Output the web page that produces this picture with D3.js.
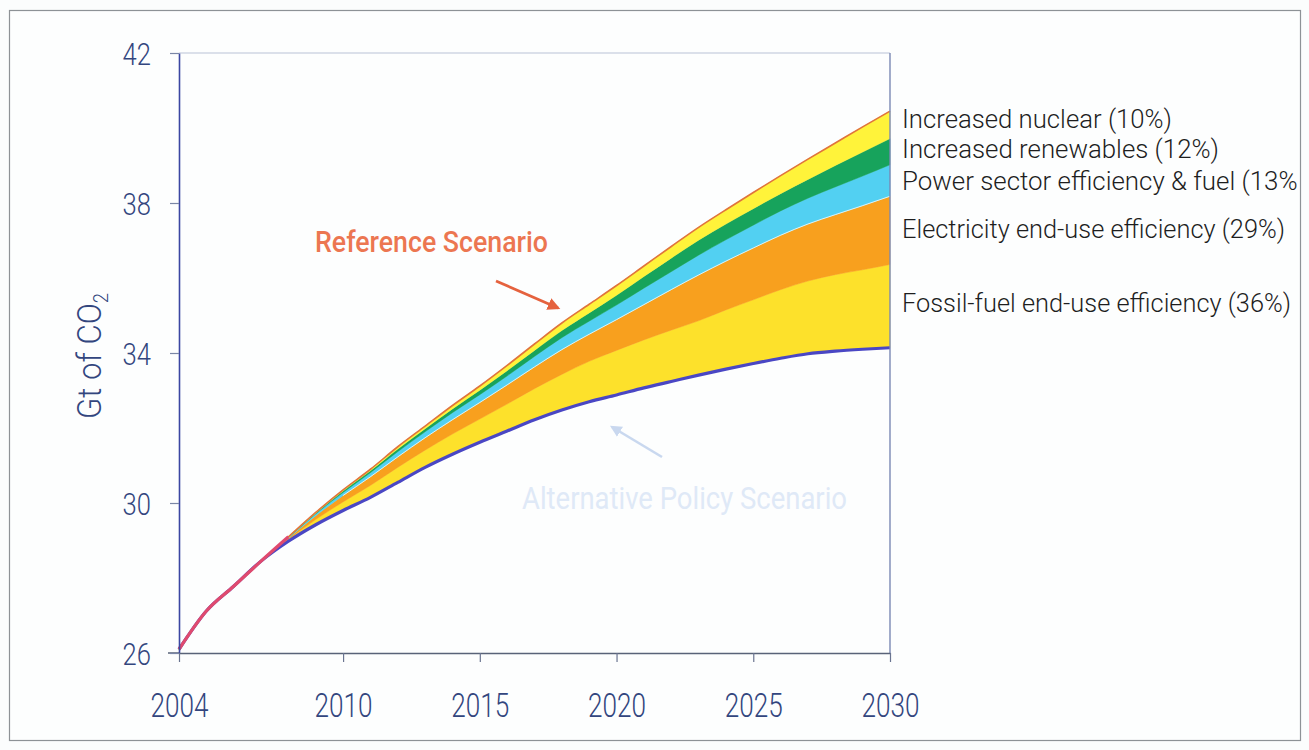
<!DOCTYPE html>
<html><head><meta charset="utf-8">
<script src="https://cdn.jsdelivr.net/npm/d3@7"></script>
<style>
html,body{margin:0;padding:0;background:#fbfdfd;}
svg{display:block}
</style></head><body>
<svg id="chart" width="1309" height="750"></svg>
<script>
// ---- data (Gt of CO2) ----
const years       = [2004,2005,2006,2007,2008,2009,2010,2011,2012,2013,2014,2015,2016,2017,2018,2019,2020,2021,2022,2023,2024,2025,2026,2027,2028,2029,2030];
const altPolicy   = [26.1,27.12,27.78,28.45,28.98,29.42,29.8,30.15,30.55,30.95,31.3,31.62,31.92,32.22,32.48,32.7,32.88,33.07,33.24,33.41,33.57,33.72,33.86,33.98,34.05,34.1,34.14];
const fossilFuel  = [0,0,0,0,.05,.14,.23,.32,.40,.46,.54,.62,.72,.83,.95,1.08,1.19,1.28,1.37,1.45,1.58,1.70,1.83,1.94,2.04,2.12,2.22];
const electricity = [0,0,0,0,.03,.10,.17,.23,.28,.33,.38,.44,.51,.58,.66,.72,.82,.94,1.08,1.22,1.30,1.38,1.45,1.52,1.60,1.71,1.82];
const powerSector = [0,0,0,0,.02,.05,.08,.11,.14,.16,.19,.21,.24,.28,.32,.35,.39,.44,.48,.53,.57,.61,.65,.69,.74,.79,.84];
const renewables  = [0,0,0,0,.01,.02,.04,.05,.07,.08,.10,.12,.14,.16,.19,.22,.26,.31,.36,.40,.42,.44,.46,.50,.57,.64,.70];
const nuclear     = [0,0,0,0,.01,.02,.03,.04,.06,.07,.09,.11,.14,.17,.20,.23,.26,.28,.31,.34,.38,.43,.48,.54,.60,.67,.73];

const layerKeys   = ["fossil","electricity","power","renewables","nuclear"];
const layerLabels = ["Fossil-fuel end-use efficiency (36%)","Electricity end-use efficiency (29%)","Power sector efficiency & fuel (13%)","Increased renewables (12%)","Increased nuclear (10%)"];
const layerColors = ["#fde12b","#f8a01e","#52d0f2","#17a35c","#fff33a"];
const yTicks = [26,30,34,38,42];
const xTicks = [2004,2010,2015,2020,2025,2030];

// ---- setup ----
const svg = d3.select("#chart");
const FONT = "Roboto,'Liberation Sans Narrow','DejaVu Sans Condensed',sans-serif";
const x = d3.scaleLinear().domain([2004,2030]).range([179,890]);
const y = d3.scaleLinear().domain([26,42]).range([653,53]);

const defs = svg.append("defs");
defs.append("clipPath").attr("id","frameClip")
  .append("rect").attr("x",9).attr("y",10).attr("width",1288).attr("height",730);

// outer frame
svg.append("rect").attr("x",9.5).attr("y",10.5).attr("width",1291).attr("height",730)
  .attr("fill","#fdfefe").attr("stroke","#8d9296").attr("stroke-width",1.2);

const table = years.map((yr,i)=>({year:yr, base:altPolicy[i], fossil:fossilFuel[i], electricity:electricity[i],
  power:powerSector[i], renewables:renewables[i], nuclear:nuclear[i]}));
const stack = d3.stack().keys(["base"].concat(layerKeys));
const series = stack(table);

const area = d3.area().x(d=>x(d.data.year)).y0(d=>y(d[0])).y1(d=>y(d[1])).curve(d3.curveMonotoneX);
const plot = svg.append("g");
series.slice(1).forEach((s,i)=>{
  plot.append("path").datum(s).attr("d",area).attr("fill",layerColors[i]).attr("stroke",layerColors[i]).attr("stroke-width",0.5);
});
// thin white highlight at top of electricity layer
const topLine = d3.line().x(d=>x(d.data.year)).y(d=>y(d[1])).curve(d3.curveMonotoneX);
plot.append("path").datum(series[2].filter(d=>d.data.year>=2010)).attr("d",topLine)
  .attr("fill","none").attr("stroke","#ffffff").attr("stroke-width",1).attr("opacity",0.75);

// lines
const refVals = table.map((d,i)=>({year:d.year, v: series[series.length-1][i][1], base:d.base}));
const line = d3.line().x(d=>x(d.year)).y(d=>y(d.v)).curve(d3.curveMonotoneX);
plot.append("path").datum(table.map(d=>({year:d.year,v:d.base}))).attr("d",line)
  .attr("fill","none").attr("stroke","#4a47c4").attr("stroke-width",3.2);
plot.append("path").datum(refVals).attr("d",line)
  .attr("fill","none").attr("stroke","#e0743c").attr("stroke-width",1.6);
plot.append("path").datum(refVals.filter(d=>d.v-d.base<0.15)).attr("d",line)
  .attr("fill","none").attr("stroke","#e04a6e").attr("stroke-width",3.2);

// plot box borders
svg.append("line").attr("x1",179).attr("x2",890).attr("y1",53).attr("y2",53).attr("stroke","#b9c1d6").attr("stroke-width",1.2);
svg.append("line").attr("x1",890).attr("x2",890).attr("y1",53).attr("y2",653).attr("stroke","#7a88b4").attr("stroke-width",1.4);
svg.append("line").attr("x1",168).attr("x2",179).attr("y1",653).attr("y2",653).attr("stroke","#596378").attr("stroke-width",1.5);

// axes
const gy = svg.append("g").attr("transform","translate(179,0)")
  .call(d3.axisLeft(y).tickValues(yTicks).tickSize(9).tickSizeOuter(0).tickPadding(19));
gy.select(".domain").attr("stroke","#3b46a2").attr("stroke-width",1.6);
gy.selectAll(".tick line").attr("stroke","#7a86a6").attr("stroke-width",1.2);
gy.selectAll(".tick text").attr("font-family",FONT).attr("font-weight",300).attr("font-size",32).attr("fill","#33467e")
  .attr("dy","0.35em").attr("textLength",d=>String(d).length*14.2).attr("lengthAdjust","spacingAndGlyphs");

const gx = svg.append("g").attr("transform","translate(0,653)")
  .call(d3.axisBottom(x).tickValues(xTicks).tickFormat(d3.format("d")).tickSize(9).tickSizeOuter(0));
gx.select(".domain").attr("stroke","#596378").attr("stroke-width",1.5);
gx.selectAll(".tick line").attr("stroke","#6a7490").attr("stroke-width",1.2);
gx.selectAll(".tick text").attr("font-family",FONT).attr("font-weight",300).attr("font-size",33).attr("fill","#33467e")
  .attr("y",64).attr("dy",0).attr("textLength",58).attr("lengthAdjust","spacingAndGlyphs");

// y title
const yt = svg.append("text").attr("transform","translate(101,356) rotate(-90)")
  .attr("text-anchor","middle").attr("font-family",FONT).attr("font-weight",300).attr("font-size",34).attr("fill","#33467e")
  .attr("textLength",126).attr("lengthAdjust","spacingAndGlyphs");
yt.append("tspan").text("Gt of CO");
yt.append("tspan").attr("font-size",20).attr("dy",7).text("2");

// legend labels at right
const legendY = {nuclear:128, renewables:158, power:190, electricity:238, fossil:312};
const legendW = {nuclear:270, renewables:317, power:404, electricity:383, fossil:389};
const lg = svg.append("g");
layerKeys.forEach((k,i)=>{
  const t = lg.append("text").attr("x",902).attr("y",legendY[k]).attr("font-family",FONT).attr("font-weight",300)
    .attr("font-size",26).attr("fill","#1e1e1e").attr("textLength",legendW[k]).attr("lengthAdjust","spacingAndGlyphs").text(layerLabels[i]);
  if (k==="power") t.attr("clip-path","url(#frameClip)");
});

// annotations
function marker(id,color){
  defs.append("marker").attr("id",id).attr("viewBox","0 0 10 10").attr("refX",8).attr("refY",5)
    .attr("markerWidth",4.5).attr("markerHeight",4.5).attr("orient","auto")
    .append("path").attr("d","M0,0 L10,5 L0,10 z").attr("fill",color);
}
marker("arrRef","#e5623e");
marker("arrAlt","#c9d8ef");
svg.append("text").attr("x",315).attr("y",252).attr("font-family",FONT).attr("font-size",30).attr("font-weight",500)
  .attr("fill","#ec7651").attr("textLength",233).attr("lengthAdjust","spacingAndGlyphs").text("Reference Scenario");
svg.append("line").attr("x1",496).attr("y1",281).attr("x2",558).attr("y2",308)
  .attr("stroke","#e5623e").attr("stroke-width",2.8).attr("marker-end","url(#arrRef)");
svg.append("text").attr("x",522).attr("y",509).attr("font-family",FONT).attr("font-size",32)
  .attr("fill","#dfe9f7").attr("textLength",325).attr("lengthAdjust","spacingAndGlyphs").text("Alternative Policy Scenario");
svg.append("line").attr("x1",662).attr("y1",457).attr("x2",612).attr("y2",427)
  .attr("stroke","#c9d8ef").attr("stroke-width",2.6).attr("marker-end","url(#arrAlt)");
</script>
</body></html>
